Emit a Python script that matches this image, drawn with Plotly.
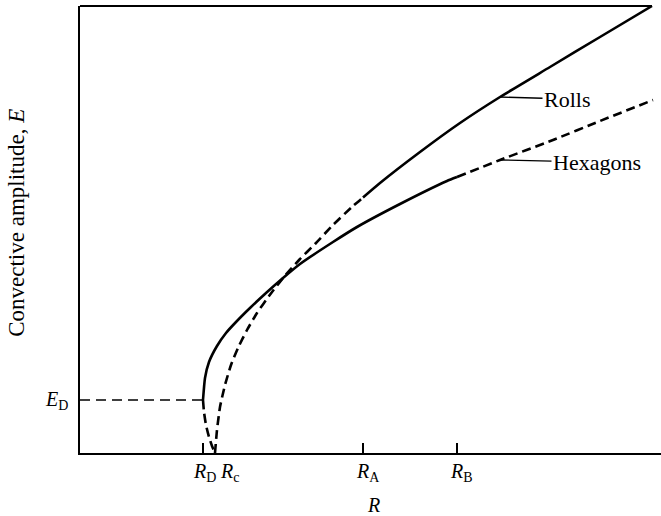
import numpy as np
import plotly.graph_objects as go

# Characteristic Rayleigh numbers and amplitude (arbitrary units)
R_D, R_c, R_A, R_B = 1.23, 1.35, 2.83, 3.77
E_D = 0.53

# Roll solution branch
rolls_R = [1.35, 1.37, 1.40, 1.45, 1.51, 1.58, 1.67, 1.77, 1.89, 2.03, 2.20,
           2.35, 2.53, 2.73, 3.00, 3.40, 3.80, 4.20, 4.70, 5.20, 5.72]
rolls_E = [0.00, 0.23, 0.46, 0.68, 0.88, 1.05, 1.23, 1.40, 1.57, 1.75, 1.94,
           2.09, 2.28, 2.47, 2.70, 3.01, 3.30, 3.56, 3.86, 4.16, 4.47]

# Hexagon solution, upper branch
hex_R = [1.23, 1.25, 1.29, 1.37, 1.46, 1.56, 1.70, 1.86, 2.03, 2.20, 2.53,
         2.77, 3.20, 3.67, 4.20, 4.73, 5.20, 5.73]
hex_E = [0.53, 0.75, 0.91, 1.07, 1.20, 1.31, 1.45, 1.60, 1.75, 1.89, 2.11,
         2.26, 2.49, 2.72, 2.93, 3.13, 3.32, 3.53]

# Hexagon solution, lower (unstable) branch
hexlow_R = [1.23, 1.24, 1.26, 1.29, 1.32, 1.35]
hexlow_E = [0.53, 0.41, 0.28, 0.16, 0.07, 0.00]

R_MAX, E_MAX = 5.81, 4.47
FONT = "Liberation Serif"


def split(xs, ys, xcut):
    """Split a curve at x = xcut into (left, right) pieces sharing the cut point."""
    xs, ys = np.asarray(xs), np.asarray(ys)
    yc = float(np.interp(xcut, xs, ys))
    m = xs < xcut
    left = (list(xs[m]) + [xcut], list(ys[m]) + [yc])
    right = ([xcut] + list(xs[~m]), [yc] + list(ys[~m]))
    return left, right


(rl_x, rl_y), (rr_x, rr_y) = split(rolls_R, rolls_E, R_A)
(hl_x, hl_y), (hr_x, hr_y) = split(hex_R, hex_E, R_B)

DASH = "9px,5px"
W = 2.6

fig = go.Figure()


def curve(x, y, dash):
    fig.add_trace(go.Scatter(
        x=x, y=y, mode="lines",
        line=dict(color="black", width=W, dash=dash, shape="spline", smoothing=0.5),
        hoverinfo="skip", showlegend=False))


curve(rl_x, rl_y, DASH)        # rolls, unstable
curve(rr_x, rr_y, "solid")     # rolls, stable
curve(hl_x, hl_y, "solid")     # hexagons, stable
curve(hr_x, hr_y, DASH)        # hexagons, unstable beyond R_B
curve(hexlow_R, hexlow_E, DASH)

# E_D level
fig.add_trace(go.Scatter(
    x=[0, R_D], y=[E_D, E_D], mode="lines",
    line=dict(color="black", width=1.5, dash="10px,6px"),
    hoverinfo="skip", showlegend=False))

# top frame line running up to the end of the roll curve
fig.add_shape(type="line", xref="x", yref="paper",
              x0=0, x1=rolls_R[-1], y0=1, y1=1,
              line=dict(color="black", width=2))

ann = []
lab = dict(family=FONT, size=20, color="black")
big = dict(family=FONT, size=22, color="black")

# labels under the R axis
for val, txt, dx in [(R_D, "<i>R</i><sub>D</sub>", 1),
                     (R_c, "<i>R</i><sub>c</sub>", 14),
                     (R_A, "<i>R</i><sub>A</sub>", 5),
                     (R_B, "<i>R</i><sub>B</sub>", 4)]:
    ann.append(dict(x=val, y=0, xref="x", yref="paper", text=txt, showarrow=False,
                    xanchor="center", yanchor="middle", xshift=dx, yshift=-19, font=lab))

# E_D label
ann.append(dict(x=0, y=E_D, xref="paper", yref="y", text="<i>E</i><sub>D</sub>",
                showarrow=False, xanchor="right", yanchor="middle", xshift=-10, font=lab))

# axis titles
ann.append(dict(x=2.93, y=0, xref="x", yref="paper", text="<i>R</i>", showarrow=False,
                xanchor="center", yanchor="middle", yshift=-52, font=lab))
ann.append(dict(x=0, y=0.515, xref="paper", yref="paper",
                text="Convective amplitude, <i>E</i>", textangle=-90, showarrow=False,
                xanchor="center", yanchor="middle", xshift=-63,
                font=dict(family=FONT, size=23, color="black")))

# curve callouts
R_LABEL = 4.20
for name, xs, ys, ax in [("Rolls", rolls_R, rolls_E, 67), ("Hexagons", hex_R, hex_E, 97)]:
    ann.append(dict(x=R_LABEL, y=float(np.interp(R_LABEL, xs, ys)), xref="x", yref="y",
                    text=name, showarrow=True, arrowhead=0, arrowwidth=1.3,
                    arrowcolor="black", ax=ax, ay=2, standoff=0, font=big))

fig.update_layout(
    width=661, height=516,
    margin=dict(l=80, r=0, t=6, b=63),
    plot_bgcolor="white", paper_bgcolor="white",
    annotations=ann,
    xaxis=dict(range=[0, R_MAX], showgrid=False, zeroline=False,
               showline=True, linecolor="black", linewidth=2,
               tickvals=[R_D, R_A, R_B], ticks="inside", ticklen=10, tickwidth=1.5,
               tickcolor="black", showticklabels=False, fixedrange=True),
    yaxis=dict(range=[0, E_MAX], showgrid=False, zeroline=False,
               showline=True, linecolor="black", linewidth=2,
               ticks="", showticklabels=False, fixedrange=True),
)

fig.write_html("out.html")
